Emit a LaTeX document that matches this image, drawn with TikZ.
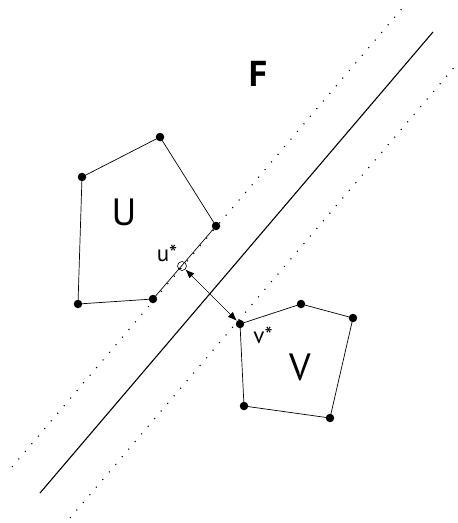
\documentclass[tikz,border=0pt]{standalone}
\usepackage{fontspec}
\setmainfont{PT Sans}
\usetikzlibrary{arrows.meta,positioning}

\begin{document}
\begin{tikzpicture}[x=1pt,y=-1pt,
    vertex/.style={circle,fill=black,inner sep=0pt,minimum size=8.5pt},
    hollow/.style={circle,draw,line width=0.6pt,inner sep=0pt,minimum size=9pt},
    edge/.style={line width=0.7pt},
    margin/.style={dash pattern=on 1.1pt off 8.9pt,line width=1.1pt},
    arrow/.style={{Latex[length=9pt,width=7pt]}-{Latex[length=9pt,width=7pt]},line width=0.7pt},
    setlabel/.style={inner sep=0pt,font=\fontsize{38}{38}\selectfont},
    ptlabel/.style={inner sep=0pt,font=\fontsize{23}{23}\selectfont}
  ]
  \useasboundingbox (0,0) rectangle (458,523);

  % hyperplane and margins
  \coordinate (h1) at (40,493);
  \coordinate (h2) at (433,32);
  \coordinate (m1) at (12,467);
  \coordinate (m2) at (405,5);
  \coordinate (n1) at (70,518);
  \coordinate (n2) at (457,64);
  \draw[line width=1.1pt] (h1) -- (h2);
  \draw[margin] (m1) -- (m2);
  \draw[margin] (n1) -- (n2);

  % set U
  \coordinate (u1) at (160,137);
  \coordinate (u2) at (82,177);
  \coordinate (u3) at (78,304);
  \coordinate (u4) at (153,299);
  \coordinate (u5) at (216,226);
  \draw[edge] (u1) -- (u2) -- (u3) -- (u4) -- (u5) -- cycle;
  \foreach \p in {u1,u2,u3,u4,u5}
    \node[vertex] at (\p) {};

  % set V
  \coordinate (v1) at (240,324);
  \coordinate (v2) at (301,304);
  \coordinate (v3) at (353,318);
  \coordinate (v4) at (330,418);
  \coordinate (v5) at (244,406);
  \draw[edge] (v1) -- (v2) -- (v3) -- (v4) -- (v5) -- cycle;
  \foreach \p in {v2,v3,v4,v5}
    \node[vertex] at (\p) {};
  \node[vertex] (vstar) at (v1) {};

  % closest points
  \node[hollow] (ustar) at (182,266) {};
  \draw[arrow] (ustar) -- (vstar);

  \node[ptlabel] (ulab) at (167,253) {u*};
  \node[ptlabel] (vlab) at (263,335) {v*};
  \node[setlabel] (U) at (124,212) {U};
  \node[setlabel] (V) at (300,367) {V};
  \node[inner sep=0pt,font=\fontsize{36}{36}\selectfont\bfseries] (F) at (258,74) {F};
\end{tikzpicture}
\end{document}
